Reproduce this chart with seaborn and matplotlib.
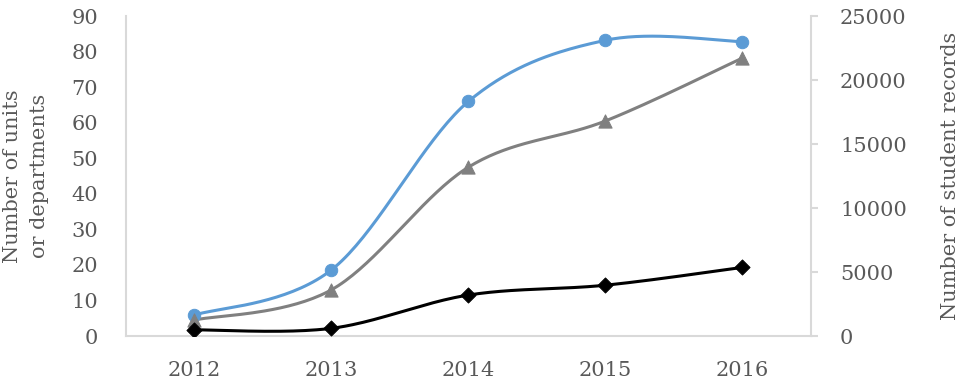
import numpy as np
import pandas as pd
import matplotlib
matplotlib.use("Agg")
import matplotlib.pyplot as plt
import seaborn as sns

years = [2012, 2013, 2014, 2015, 2016]
units = [5.9, 18.6, 66.0, 83.2, 82.8]          # blue circles, left axis
departments = [4.5, 13.0, 47.5, 60.5, 78.2]    # gray triangles, left axis
student_records = [480, 600, 3200, 3970, 5360] # black diamonds, right axis

left_ticks = list(range(0, 91, 10))
right_ticks = list(range(0, 25001, 5000))

sns.set_theme(style="white")
plt.rcParams['font.family'] = ['DejaVu Serif']

def smooth(xs, ys, n=40):
    xs = np.asarray(xs, float); ys = np.asarray(ys, float)
    P = np.column_stack([xs, ys])
    P = np.vstack([P[0], P, P[-1]])
    out = []
    for i in range(1, len(P) - 2):
        p0, p1, p2, p3 = P[i-1], P[i], P[i+1], P[i+2]
        c1 = p1 + (p2 - p0) / 6.0
        c2 = p2 - (p3 - p1) / 6.0
        t = np.linspace(0, 1, n)[:, None]
        seg = ((1-t)**3)*p1 + 3*((1-t)**2)*t*c1 + 3*(1-t)*t**2*c2 + t**3*p2
        out.append(seg if i == 1 else seg[1:])
    s = np.vstack(out)
    return s[:, 0], s[:, 1]

fig = plt.figure(figsize=(9.66, 3.84), dpi=100)
ax = fig.add_axes([0.1304, 0.125, 0.709, 0.833])
ax2 = ax.twinx()

blue = "#5B9BD5"
gray = "#808080"
black = "#000000"
text_c = "#595959"
spine_c = "#D9D9D9"

for vals, col, mk, ms, a in [(units, blue, "o", 80, ax), (departments, gray, "^", 90, ax)]:
    sx, sy = smooth(years, vals)
    sns.lineplot(x=sx, y=sy, ax=a, color=col, linewidth=2.2, sort=False, estimator=None)
    sns.scatterplot(x=years, y=vals, ax=a, color=col, marker=mk, s=ms, edgecolor=col, zorder=5)

sx, sy = smooth(years, student_records)
sns.lineplot(x=sx, y=sy, ax=ax2, color=black, linewidth=2.2, sort=False, estimator=None)
sns.scatterplot(x=years, y=student_records, ax=ax2, color=black, marker="D", s=60, edgecolor=black, zorder=5)

ax.set_xlim(2011.5, 2016.5)
ax.set_ylim(0, 90)
ax2.set_ylim(0, 25000)
ax.set_xticks(years)
ax.set_xticklabels([str(y) for y in years])
ax.set_yticks(left_ticks)
ax2.set_yticks(right_ticks)

ax.spines["top"].set_visible(False)
ax.spines["right"].set_visible(False)
for s in ["top", "left", "bottom"]:
    ax2.spines[s].set_visible(False)
for sp in [ax.spines["bottom"], ax.spines["left"], ax2.spines["right"]]:
    sp.set_color(spine_c)
    sp.set_linewidth(1.5)

ax.tick_params(axis="x", length=0, labelsize=15, labelcolor=text_c, pad=18)
ax.tick_params(axis="y", length=0, labelsize=15, labelcolor=text_c, pad=20)
ax2.tick_params(axis="y", length=5, color=spine_c, width=1.5, labelsize=15, labelcolor=text_c, pad=16, right=True)

ax.set_ylabel("Number of units\nor departments", fontsize=15, color=text_c, linespacing=1.5)
ax.yaxis.set_label_coords(-0.113, 0.5)
ax2.set_ylabel("Number of student records", fontsize=15, color=text_c)
ax2.yaxis.set_label_coords(1.19, 0.5)
ax.grid(False); ax2.grid(False)

fig.savefig("out.png", dpi=100)
